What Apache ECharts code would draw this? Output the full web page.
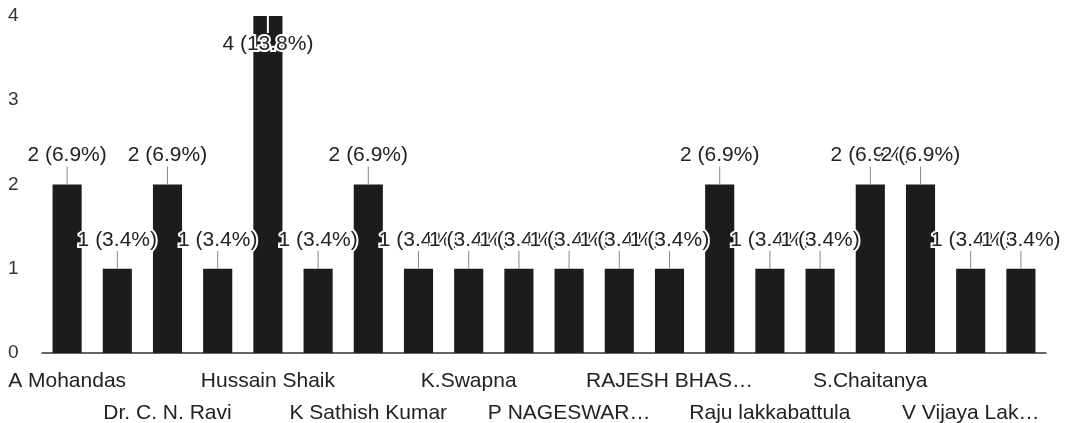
<!DOCTYPE html>
<html>
<head>
<meta charset="utf-8">
<script src="https://cdn.jsdelivr.net/npm/echarts@6/dist/echarts.min.js"></script>
<style>
  html, body { margin: 0; padding: 0; background: #fff; }
  #chart { width: 1067px; height: 423px; }
</style>
</head>
<body>
<div id="chart"></div>
<script>
  // names of the odd bars are not printed in the picture, so left blank
  var names = ['A Mohandas', '', 'Dr. C. N. Ravi', '', 'Hussain Shaik', '', 'K Sathish Kumar', '',
               'K.Swapna', '', 'P NAGESWAR…', '', 'RAJESH BHAS…', '', 'Raju lakkabattula', '',
               'S.Chaitanya', '', 'V Vijaya Lak…', ''];
  var counts = [2, 1, 2, 1, 4, 1, 2, 1, 1, 1, 1, 1, 1, 2, 1, 1, 2, 2, 1, 1];
  var yTicks = [0, 1, 2, 3, 4];

  var total = 0;
  counts.forEach(function (v) { total += v; });
  var maxVal = yTicks[yTicks.length - 1];

  function pctText(v) {
    return v + ' (' + (v / total * 100).toFixed(1) + '%)';
  }

  var barData = counts.map(function (v) {
    if (v >= maxVal) {
      // label gets pushed inside the tallest bar
      return {
        value: v,
        label: {
          position: 'insideTop',
          distance: 0,
          formatter: function (p) {
            return '{w|}\n{t|' + pctText(p.value) + '}';
          }
        }
      };
    }
    return v;
  });

  var myChart = echarts.init(document.getElementById('chart'));
  var option = {
    animation: false,
    grid: { left: 42, right: 21, top: 16, bottom: 70, outerBoundsMode: 'none' },
    xAxis: {
      type: 'category',
      data: names,
      axisTick: { show: false },
      axisLine: { lineStyle: { color: '#333', width: 1.5 } },
      axisLabel: {
        interval: 0,
        margin: 12,
        fontFamily: 'Liberation Sans',
        fontSize: 21,
        lineHeight: 32,
        color: '#222',
        hideOverlap: false,
        formatter: function (value, idx) {
          if (idx % 2 == 1) return '';
          if (idx % 4 == 2) return '\n' + value;
          return value;
        }
      }
    },
    yAxis: {
      type: 'value',
      min: 0,
      max: maxVal,
      interval: 1,
      splitLine: { show: false },
      axisLine: { show: false },
      axisTick: { show: false },
      axisLabel: {
        align: 'left',
        margin: 34,
        fontFamily: 'Liberation Sans',
        fontSize: 19,
        color: '#333'
      }
    },
    series: [
      {
        type: 'bar',
        data: barData,
        barCategoryGap: '42%',
        itemStyle: { color: '#1c1c1c' },
        label: {
          show: true,
          position: 'top',
          distance: 0,
          formatter: function (p) {
            return '{t|' + pctText(p.value) + '}\n{l|}';
          },
          rich: {
            t: {
              fontFamily: 'Liberation Sans',
              fontSize: 21,
              lineHeight: 22,
              color: '#222',
              textBorderColor: '#fff',
              textBorderWidth: 4
            },
            l: { width: 1, height: 18, backgroundColor: '#888' },
            w: { width: 2, height: 17, backgroundColor: '#fff' }
          }
        }
      }
    ]
  };
  option && myChart.setOption(option, true);
</script>
</body>
</html>
